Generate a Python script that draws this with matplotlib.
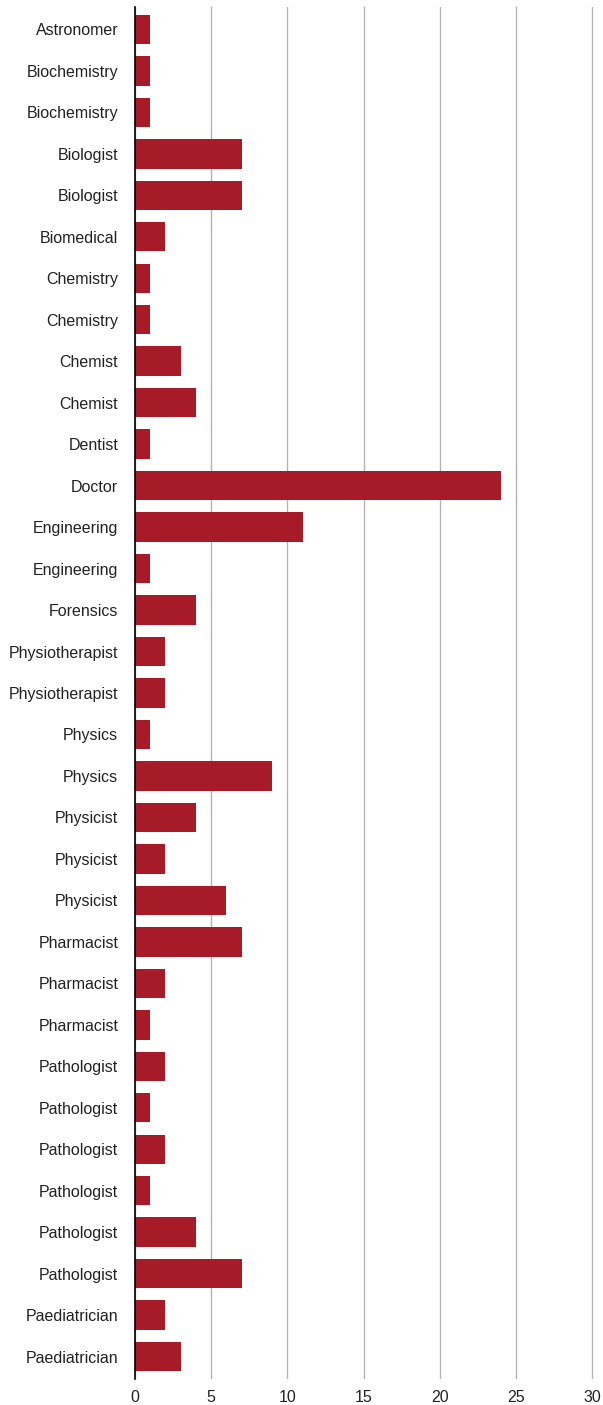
import matplotlib
matplotlib.use("Agg")
import matplotlib.pyplot as plt

categories = ["Astronomer", "Biochemistry", "Biochemistry", "Biologist", "Biologist",
              "Biomedical", "Chemistry", "Chemistry", "Chemist", "Chemist", "Dentist",
              "Doctor", "Engineering", "Engineering", "Forensics", "Physiotherapist",
              "Physiotherapist", "Physics", "Physics", "Physicist", "Physicist", "Physicist",
              "Pharmacist", "Pharmacist", "Pharmacist", "Pathologist", "Pathologist",
              "Pathologist", "Pathologist", "Pathologist", "Pathologist",
              "Paediatrician", "Paediatrician"]
values = [1, 1, 1, 7, 7, 2, 1, 1, 3, 4, 1, 24, 11, 1, 4, 2, 2, 1, 9, 4, 2, 6,
          7, 2, 1, 2, 1, 2, 1, 4, 7, 2, 3]
x_ticks = [0, 5, 10, 15, 20, 25, 30]

plt.rcParams['font.family'] = ['Liberation Sans', 'DejaVu Sans']

fig = plt.figure(figsize=(6.03, 14.05), dpi=100)
xmax = 30.2
ax = fig.add_axes([135/603, 26/1405, (592-135)/603 * xmax / 30, (1379-7)/1405])

pos = list(range(len(categories)))
ax.barh(pos, values, height=0.71, color="#A71A27", zorder=3)
ax.set_yticks(pos)
ax.set_yticklabels(categories, fontsize=11.5, color="#222222")
ax.set_ylim(len(categories) - 0.46, -0.54)
ax.set_xlim(0, xmax)
ax.set_xticks(x_ticks)
ax.set_xticklabels([str(t) for t in x_ticks], fontsize=11.5, color="#222222")
ax.tick_params(axis="y", length=0, pad=12)
ax.tick_params(axis="x", length=0, pad=8)
ax.grid(axis="x", color="#b3b3b3", linewidth=1, zorder=0)
for s in ["top", "right", "bottom"]:
    ax.spines[s].set_visible(False)
ax.spines["left"].set_color("black")
ax.spines["left"].set_linewidth(1.2)
ax.spines["left"].set_zorder(4)

fig.savefig("out.png", dpi=100)
